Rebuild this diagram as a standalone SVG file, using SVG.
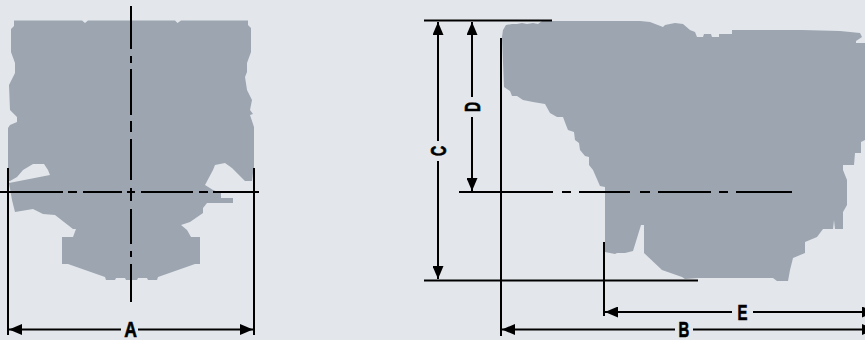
<svg xmlns="http://www.w3.org/2000/svg" width="865" height="340" viewBox="0 0 865 340">
<style>
.shape{fill:#9ca5b0}
.l{stroke:#000;stroke-width:2;fill:none}
.c{stroke:#000;stroke-width:2;fill:none}
.t{font-family:"Liberation Sans",Arial,sans-serif;font-weight:700;font-size:22px;text-anchor:middle;fill:#000;stroke:#000;stroke-width:.6}
</style>
<defs>
<marker id="arrow" viewBox="0 0 13 11" refX="13" refY="5.5" markerWidth="13" markerHeight="11" markerUnits="userSpaceOnUse" orient="auto-start-reverse"><path d="M0 0L13 5.5L0 11z" fill="#000"/></marker>
</defs>
<rect width="865" height="340" fill="#e3e6eb"/>
<g id="front-view">
<path class="shape" d="M14 20.5L82 20.5L85 23L88 20.5L175 20.5L177.500 23L181 20.500L248 20.500L248 25L251 28L251 52L247 63L247 72L245 77L247 90L252 100L250 110L253 114L250 115L254 127L254 170L253 173L252 181L245 181L232 168L225 163L215 165L213 170L205 185L213 190L221 193L221 198L233 198L233 203L207 203L203 208L203 213L190 222L181 225L187 230L191 237L200 237L200 264L195 264L158 277L157 280L148 280L147 278L138 278L137 280L126 280L125 278L116 278L115 280L106 280L105 277L68 264L62 264L62 237L73 237L76 229L73 229L55 215L43 214L33 209L15 212L12 200L9 183L50 175L48 170L44 164L33 164L23 170L17 177L10 181L8 181L8 128L10 125L17 122L17 117L10 110L9 85L15 73L15 63L11 52L11 29L14 26Z"/>
</g>
<g id="side-view">
<path class="shape" d="M542 21L640 21L650 22L663 27L665 25L675 23L683 24L690 30L695 32L697 37L703 37L704 34L711 34L712 37L719 37L719 34L732 34L732 30L802 30L840 31L860 33L862 37L856 41L856 43L865 43L865 140L861 142L861 153L855 153L854 165L843 165L843 170L847 180L847 205L843 212L843 229L835 229L834 220L833 229L823 229L817 237L805 242L805 253L793 258L790 270L788 281L777 281L773 278L698 278L685 279L682 277L662 270L644 253L644 225L641 225L633 251L625 253L617 253L615 254L605 252L605 187L600 186L593 170L589 165L589 157L585 156L580 150L579 143L575 140L574 132L568 130L566 125L563 117L557 117L550 113L545 104L533 102L523 100L517 96L512 96L510 91L504 87L502 37L503 30L506 25L512 24L517 24L522 23L527 24L533 23L538 24Z"/>
</g>
<g id="connectors">
<path class="c" d="M131 6V49M131 56V63M131 69V115M131 121V132M131 139V180M131 188V201M131 209V244M131 251V257M131 264V302"/>
<path class="c" d="M0 192H63M68 192H77M83 192H122M127 192H135M141 192H193M199 192H208M213 192H259"/>
<path class="l" d="M8 168V335M254 168V335M424 20.500H552M424 280.500H698M501 38V336M604 242V316"/>
<path class="c" d="M459 192H553M562 192H571M579 192H630M640 192H650M658 192H711M719 192H728M736 192H792"/>
<line class="l" x1="121" y1="329.500" x2="9" y2="329.500" marker-end="url(#arrow)"/>
<line class="l" x1="138" y1="329.500" x2="253" y2="329.500" marker-end="url(#arrow)"/>
<line class="l" x1="438" y1="141" x2="438" y2="22" marker-end="url(#arrow)"/>
<line class="l" x1="438" y1="161" x2="438" y2="279" marker-end="url(#arrow)"/>
<line class="l" x1="472" y1="97" x2="472" y2="22" marker-end="url(#arrow)"/>
<line class="l" x1="472" y1="117" x2="472" y2="191" marker-end="url(#arrow)"/>
<line class="l" x1="732" y1="312" x2="605" y2="312" marker-end="url(#arrow)"/>
<line class="l" x1="753" y1="312" x2="875" y2="312" marker-end="url(#arrow)"/>
<line class="l" x1="675" y1="329.500" x2="502" y2="329.500" marker-end="url(#arrow)"/>
<line class="l" x1="693" y1="329.500" x2="875" y2="329.500" marker-end="url(#arrow)"/>
</g>
<g id="labels">
<text class="t" transform="translate(130.500 337) scale(.8 1)">A</text>
<text class="t" transform="translate(684 337) scale(.68 1)">B</text>
<text class="t" transform="translate(742.500 320) scale(.68 1)">E</text>
<text class="t" transform="translate(446 151) rotate(-90) scale(.64 1)">C</text>
<text class="t" transform="translate(480 107) rotate(-90) scale(.64 1)">D</text>
</g>
</svg>
